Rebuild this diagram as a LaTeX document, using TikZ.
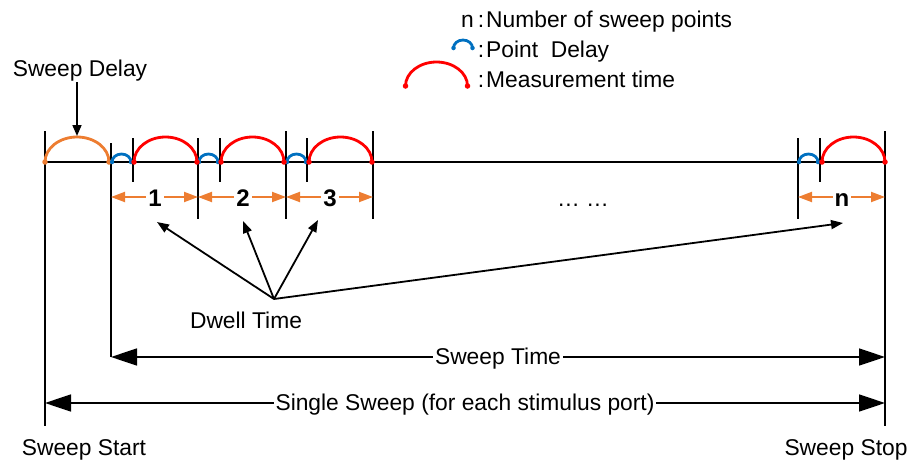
\documentclass[tikz,border=0pt]{standalone}
\usepackage{fontspec}
\setmainfont{Liberation Sans}
\usetikzlibrary{arrows.meta}
\definecolor{org}{HTML}{ED7D31}
\definecolor{rd}{HTML}{FF0000}
\definecolor{bl}{HTML}{0070C0}
\begin{document}
\begin{tikzpicture}[x=1pt,y=-1pt,
  font=\fontsize{22.8}{27}\selectfont,
  tickline/.style={line width=1.6pt,black},
  arcline/.style={line width=2.8pt},
  enddot/.style={fill,circle,inner sep=0pt,minimum size=5.5pt},
  dimarrow/.style={org,line width=2pt,{Triangle[length=14pt,width=10pt]}-{Triangle[length=14pt,width=10pt]}},
  dimlabel/.style={fill=white,inner sep=2pt,font=\fontsize{24}{28}\selectfont\bfseries,anchor=base},
  pointer/.style={line width=1.8pt,-{Triangle[length=12pt,width=9pt]}},
  bigarrow/.style={line width=1.6pt,{Triangle[length=26pt,width=17pt]}-{Triangle[length=26pt,width=17pt]}},
  txt/.style={inner sep=0pt,anchor=base},
  spanlabel/.style={fill=white,inner sep=2pt,anchor=base}]
\useasboundingbox (0,0) rectangle (911,461);

% --- tick coordinates
\coordinate (L) at (45,162);
\coordinate (R) at (885,162);
\coordinate (Lt) at (45,131);   \coordinate (Lb) at (45,426);
\coordinate (Rt) at (885,131);  \coordinate (Rb) at (885,426);
\coordinate (a1t) at (111,143); \coordinate (a1b) at (111,357);
\coordinate (b1t) at (133,138); \coordinate (b1b) at (133,182);
\coordinate (a2t) at (198,138); \coordinate (a2b) at (198,219);
\coordinate (b2t) at (220,138); \coordinate (b2b) at (220,182);
\coordinate (a3t) at (286,131); \coordinate (a3b) at (286,219);
\coordinate (b3t) at (307,138); \coordinate (b3b) at (307,182);
\coordinate (a4t) at (373,131); \coordinate (a4b) at (373,219);
\coordinate (ant) at (798,138); \coordinate (anb) at (798,219);
\coordinate (bnt) at (820,138); \coordinate (bnb) at (820,182);

% --- main line and ticks
\draw[tickline] (L) -- (R);
\foreach \t/\b in {Lt/Lb,Rt/Rb,a1t/a1b,b1t/b1b,a2t/a2b,b2t/b2b,a3t/a3b,b3t/b3b,a4t/a4b,ant/anb,bnt/bnb}
  \draw[tickline] (\t) -- (\b);

% --- arcs
\draw[org,arcline] (45,162) arc[start angle=180,end angle=0,x radius=32pt,y radius=25pt];
\node[enddot,org] at (45,162) {};
\node[enddot,org] at (109,162) {};
\foreach \x in {112,199,287,799}{
  \draw[bl,arcline] (\x,162) arc[start angle=180,end angle=0,x radius=9.5pt,y radius=8pt];
  \node[enddot,bl,minimum size=4.5pt] at (\x,162) {};
  \node[enddot,bl,minimum size=4.5pt] at (\x+19,162) {};
}
\foreach \x in {134,221,309,822}{
  \draw[rd,arcline] (\x,162) arc[start angle=180,end angle=0,x radius=31.5pt,y radius=25pt];
  \node[enddot,rd] at (\x,162) {};
  \node[enddot,rd] at (\x+63,162) {};
}

% --- dimension arrows
\coordinate (d1) at (111,197); \coordinate (d2) at (198,197);
\coordinate (d3) at (286,197); \coordinate (d4) at (373,197);
\coordinate (dn1) at (798,197); \coordinate (dn2) at (885,197);
\draw[dimarrow] (d1) -- (d2);
\draw[dimarrow] (d2) -- (d3);
\draw[dimarrow] (d3) -- (d4);
\draw[dimarrow] (dn1) -- (dn2);
\node[dimlabel] (n1) at (155,206) {1};
\node[dimlabel] (n2) at (243,206) {2};
\node[dimlabel] (n3) at (330,206) {3};
\node[dimlabel] (nn) at (842,206) {n};
\node[txt] (dots) at (583,206) {… …};

% --- dwell time pointers
\node[txt] (dwell) at (246,328) {Dwell Time};
\coordinate (dw) at (274,299);
\coordinate (p1) at (157,222);
\coordinate (p2) at (243,221);
\coordinate (p3) at (318,220);
\coordinate (pn) at (843,223);
\foreach \p in {p1,p2,p3,pn}
  \draw[pointer] (dw) -- (\p);

% --- sweep delay
\node[txt] (sdelay) at (80,76) {Sweep Delay};
\coordinate (sd1) at (77,82);
\coordinate (sd2) at (77,136);
\draw[pointer,line width=1.6pt,-{Triangle[length=11pt,width=9pt]}] (sd1) -- (sd2);

% --- span arrows
\coordinate (st1) at (111,357); \coordinate (st2) at (885,357);
\draw[bigarrow] (st1) -- (st2);
\node[spanlabel] (stime) at (498,364) {Sweep Time};
\coordinate (ss1) at (45,403); \coordinate (ss2) at (885,403);
\draw[bigarrow] (ss1) -- (ss2);
\node[spanlabel] (ssweep) at (465,410) {Single Sweep (for each stimulus port)};

\node[txt] (sstart) at (84,455) {Sweep Start};
\node[txt] (sstop) at (846,455) {Sweep Stop};

% --- legend
\node[txt,anchor=base east] (ln) at (474,27) {n};
\node[txt] (c1) at (481,27) {:};
\node[txt,anchor=base west] (l1) at (486,27) {Number of sweep points};
\draw[bl,arcline] (453.5,48) arc[start angle=180,end angle=0,x radius=9.5pt,y radius=8pt];
\node[enddot,bl,minimum size=4.5pt] at (453.5,48) {};
\node[enddot,bl,minimum size=4.5pt] at (472.5,48) {};
\node[txt] (c2) at (481,57) {:};
\node[txt,anchor=base west] (l2) at (486,57) {Point\ \ Delay};
\draw[rd,arcline] (405.5,86) arc[start angle=180,end angle=0,x radius=31pt,y radius=24pt];
\node[enddot,rd] at (405.5,86) {};
\node[enddot,rd] at (467.5,86) {};
\node[txt] (c3) at (481,87) {:};
\node[txt,anchor=base west] (l3) at (486,87) {Measurement time};
\end{tikzpicture}
\end{document}
